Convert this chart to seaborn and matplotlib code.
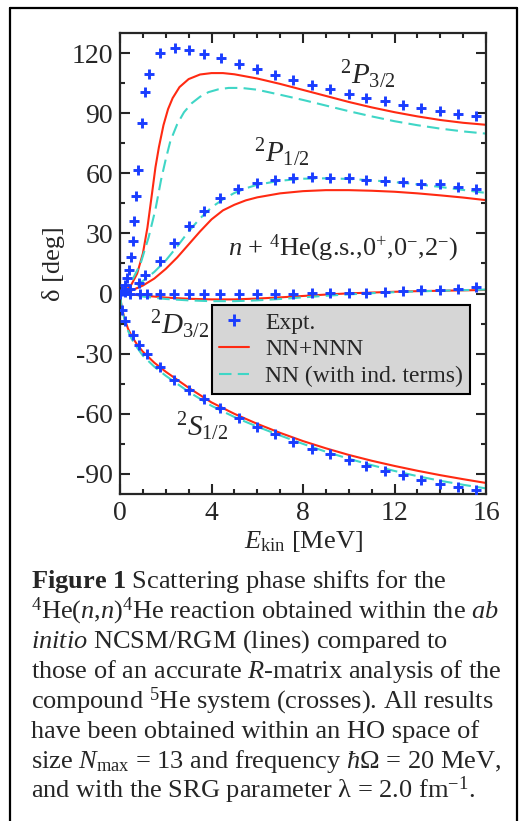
import numpy as np
import pandas as pd
import matplotlib
matplotlib.use("Agg")
import matplotlib.pyplot as plt
from matplotlib.lines import Line2D
import seaborn as sns

# ---------------- data: n + 4He phase shifts (deg) vs E_kin (MeV) ----------------
# R-matrix analysis (crosses)
e_p32_expt = [0.1, 0.2, 0.3, 0.38, 0.48, 0.55, 0.62, 0.72, 0.78, 0.94, 1.1, 1.28, 1.77, 2.39,
              3.03, 3.68, 4.4, 5.19, 5.97, 6.78, 7.57, 8.38, 9.17, 9.99, 10.77, 11.57, 12.37,
              13.17, 13.97, 14.77, 15.58]
d_p32_expt = [1.5, 4.5, 8, 12, 18, 26, 36, 48.6, 61.6, 85, 100.5, 109.7, 120, 122.4,
              121.5, 119.7, 117.3, 114.7, 111.9, 109, 106.7, 104, 102, 99.7, 97.7, 96, 94,
              92.8, 90.9, 89.8, 88.4]

e_p12_expt = [0.2, 0.45, 0.83, 1.1, 1.76, 2.38, 3.02, 3.67, 4.39, 5.17, 5.97, 6.78, 7.57,
              8.38, 9.17, 9.99, 10.77, 11.57, 12.37, 13.17, 13.97, 14.77, 15.58]
d_p12_expt = [0.7, 2.5, 5.5, 9.2, 16.3, 25, 33.7, 41.3, 47.6, 52.4, 55.2, 56.8, 57.8,
              58.2, 57.8, 57.5, 56.8, 56.2, 55.5, 54.9, 54.5, 53.2, 52.4]

e_d32_expt = [0.0, 0.45, 0.87, 1.16, 1.76, 2.38, 3.02, 3.67, 4.39, 5.19, 5.97, 6.78, 7.57,
              8.38, 9.17, 9.99, 10.77, 11.57, 12.37, 13.17, 13.97, 14.77, 15.58]
d_d32_expt = [0.0, 0.0, 0.0, 0.0, 0.0, 0.0, 0.0, 0.0, 0.0, 0.0, 0.0, 0.0, 0.0,
              0.1, 0.2, 0.3, 0.5, 0.8, 1.1, 1.6, 2.0, 2.5, 3.3]

e_s12_expt = [0.09, 0.23, 0.56, 0.84, 1.17, 1.76, 2.38, 3.02, 3.68, 4.36, 5.19, 5.97, 6.78,
              7.57, 8.38, 9.17, 9.99, 10.77, 11.57, 12.37, 13.17, 13.97, 14.77, 15.58]
d_s12_expt = [-8.3, -13.7, -20.6, -25.5, -30.3, -36.6, -42.9, -47.9, -52.6, -56.9, -62, -66.5,
              -70.2, -74, -77.3, -80.1, -83.1, -86, -88.5, -90.6, -92.8, -94.8, -96.5, -98.1]

# NCSM/RGM calculations
e_p32_calc = [0, 0.25, 0.5, 0.75, 1.0, 1.2, 1.4, 1.55, 1.7, 1.9, 2.1, 2.3, 2.6, 3.0, 3.5, 4.0,
              4.5, 5.0, 6.0, 7.0, 8.0, 9.0, 10.0, 11.0, 12.0, 13.0, 14.0, 15.0, 16.0]
d_p32_nnn = [0, 1.5, 4.5, 10, 20, 33, 50, 63, 73, 84, 92, 97.5, 103, 107, 109.3, 110,
             110, 109.4, 107.3, 104.6, 101.6, 98.6, 95.6, 92.9, 90.5, 88.4, 86.6, 85.2, 84.2]
e_p32_nn = [0, 0.5, 0.9, 1.25, 1.55, 1.8, 2.0, 2.2, 2.5, 2.8, 3.14, 3.5, 3.87, 4.3, 4.75,
            5.3, 6.0, 7.0, 8.0, 9.0, 10.0, 11.0, 12.0, 13.0, 14.0, 15.0, 16.0]
d_p32_nn = [0, 6, 15, 28, 42, 57, 67, 76, 84.5, 90.5, 95, 98.2, 100.5, 101.9, 102.6,
            102.6, 101.7, 99.2, 96.6, 93.8, 91.0, 88.4, 86.0, 84.0, 82.3, 80.9, 79.8]

e_p12_calc = [0, 0.5, 1.0, 1.5, 2.0, 2.5, 3.0, 3.5, 4.0, 4.5, 5.0, 5.5, 6.0, 7.0, 8.0, 9.0,
              10.0, 11.0, 12.0, 13.0, 14.0, 15.0, 16.0]
d_p12_nnn = [0, 1.5, 4, 7.5, 12.3, 18, 24.5, 31, 37, 41.5, 44.3, 46.5, 48, 50, 51.1, 51.6,
             51.6, 51.3, 50.8, 50.0, 49.0, 47.9, 46.6]
d_p12_nn = [0, 2.5, 6.3, 10.8, 16.5, 23.5, 31, 37.5, 43, 47, 50.2, 52.5, 54.3, 56.3, 57.3,
            57.5, 57.2, 56.5, 55.6, 54.5, 53.2, 51.7, 50.2]

e_d32_calc = [0, 0.5, 1, 2, 3, 4, 5, 6, 7, 8, 9, 10, 11, 12, 13, 14, 15, 16]
d_d32_nnn = [0, -0.5, -1.0, -2.0, -2.6, -2.9, -2.9, -2.5, -1.9, -1.2, -0.5, 0.1, 0.5, 0.9,
             1.2, 1.4, 1.6, 1.8]
d_d32_nn = [0, -0.8, -1.5, -2.7, -3.4, -3.8, -3.8, -3.4, -2.7, -1.9, -1.1, -0.4, 0.2, 0.7,
            1.1, 1.4, 1.7, 2.0]

e_s12_calc = [0, 0.05, 0.1, 0.2, 0.35, 0.5, 0.75, 1.0, 1.5, 2.0, 2.5, 3.0, 4.0, 5.0, 6.0,
              7.0, 8.0, 9.0, 10.0, 11.0, 12.0, 13.0, 14.0, 15.0, 16.0]
d_s12_nnn = [0, -5, -8, -12.5, -17.5, -21, -25.5, -29, -34.5, -39, -43, -47, -54.3, -60,
             -65, -69.5, -73.6, -77.2, -80.5, -83.4, -86, -88.4, -90.6, -92.6, -94.5]
d_s12_nn = [0, -5, -8.5, -13, -18.5, -22.5, -27, -31, -36.5, -41, -45, -49, -56, -61.6,
            -66.4, -70.8, -75, -78.9, -82.4, -85.6, -88.5, -91.1, -93.4, -95.4, -97.2]

x_ticks = [0, 4, 8, 12, 16]
y_ticks = [-90, -60, -30, 0, 30, 60, 90, 120]

# ---------------- style ----------------
sns.set_style("ticks")
plt.rcParams["font.family"] = ["Liberation Serif", "DejaVu Serif"]
plt.rcParams["mathtext.fontset"] = "custom"
plt.rcParams["mathtext.rm"] = "Liberation Serif"
plt.rcParams["mathtext.it"] = "Liberation Serif:italic"
plt.rcParams["mathtext.bf"] = "Liberation Serif:bold"
plt.rcParams["axes.unicode_minus"] = False

RED = "#ff2a12"
CYAN = "#3fd6c6"
BLUE = "#1a3dff"
LW = 1.5
DASH = (0, (6, 3))

W, H = 524, 821
fig = plt.figure(figsize=(W / 100, H / 100), dpi=100)
ax = fig.add_axes([120 / W, 1 - 494 / H, 366 / W, 461 / H])


def line(xs, ys, color, ls):
    df = pd.DataFrame({"E": xs, "d": ys})
    sns.lineplot(data=df, x="E", y="d", ax=ax, color=color, lw=LW, linestyle=ls,
                 estimator=None, sort=False, legend=False)


def crosses(xs, ys):
    df = pd.DataFrame({"E": xs, "d": ys})
    sns.scatterplot(data=df, x="E", y="d", ax=ax, marker="+", s=60, color=BLUE,
                    linewidth=2.1, legend=False, zorder=3)


for xs, ys in [(e_p32_calc, d_p32_nnn), (e_p12_calc, d_p12_nnn),
               (e_d32_calc, d_d32_nnn), (e_s12_calc, d_s12_nnn)]:
    line(xs, ys, RED, "-")
for xs, ys in [(e_p32_nn, d_p32_nn), (e_p12_calc, d_p12_nn),
               (e_d32_calc, d_d32_nn), (e_s12_calc, d_s12_nn)]:
    line(xs, ys, CYAN, DASH)
for xs, ys in [(e_p32_expt, d_p32_expt), (e_p12_expt, d_p12_expt),
               (e_d32_expt, d_d32_expt), (e_s12_expt, d_s12_expt)]:
    crosses(xs, ys)

ax.set_xlim(0, 16)
ax.set_ylim(-100, 130)
ax.set_xticks(x_ticks)
ax.set_yticks(y_ticks)
ax.set_xticks(np.arange(0, 17, 1), minor=True)
ax.set_yticks(np.arange(-90, 130, 15), minor=True)
ax.tick_params(which="both", direction="in", top=True, right=True, width=1.5,
               labelsize=20, pad=5)
ax.tick_params(which="major", length=7)
ax.tick_params(which="minor", length=3.6)
for sp in ax.spines.values():
    sp.set_linewidth(1.6)

ax.set_xlabel(r"$E_{\rm kin}$ [MeV]", fontsize=19, labelpad=2)
ax.set_ylabel("δ [deg]", fontsize=19, labelpad=5)

# partial-wave labels
ax.text(9.6, 104.5, r"$^{2}P_{3/2}$", fontsize=21)
ax.text(5.85, 65.5, r"$^{2}P_{1/2}$", fontsize=21)
ax.text(9.75, 22.5, r"$n$ + $^{4}$He(g.s.,0$^{+}$,0$^{-}$,2$^{-}$)", fontsize=19,
        ha="center", va="center")
ax.text(1.3, -20, r"$^{2}D_{3/2}$", fontsize=21)
ax.text(2.45, -71, r"$^{2}S_{1/2}$", fontsize=21)

handles = [Line2D([], [], ls="none", marker="+", color=BLUE, ms=8, mew=2.1),
           Line2D([], [], color=RED, lw=LW),
           Line2D([], [], color=CYAN, lw=LW, ls=DASH)]
leg = ax.legend(handles, ["Expt.", "NN+NNN", "NN (with ind. terms)"],
                loc="upper left", bbox_to_anchor=(92 / 366, (494 - 305) / 461),
                fontsize=17, frameon=True, fancybox=False, framealpha=1,
                facecolor="#d6d6d6", edgecolor="black", handlelength=1.25,
                handletextpad=0.7, borderpad=0.3, labelspacing=0.22, borderaxespad=0)
leg.get_frame().set_linewidth(1.5)

# outer frame
fr = dict(color="black", lw=1.6, transform=fig.transFigure, clip_on=False)
fig.add_artist(Line2D([10 / W, 10 / W], [0, 1 - 8 / H], **fr))
fig.add_artist(Line2D([10 / W, 517 / W], [1 - 8 / H, 1 - 8 / H], **fr))
fig.add_artist(Line2D([517 / W, 517 / W], [0, 1 - 8 / H], **fr))

# caption
cap = [
    r"$\mathbf{Figure\ 1}$ Scattering phase shifts for the",
    r"$^{4}$He($n$,$n$)$^{4}$He reaction obtained within the $ab$",
    r"$initio$ NCSM/RGM (lines) compared to",
    r"those of an accurate $R$-matrix analysis of the",
    r"compound $^{5}$He system (crosses). All results",
    r"have been obtained within an HO space of",
    r"size $N_{\rm max}$ = 13 and frequency $ħ$Ω = 20 MeV,",
    r"and with the SRG parameter λ = 2.0 fm$^{-1}$.",
]
for i, s in enumerate(cap):
    fig.text(31 / W, 1 - (588 + 30 * i) / H, s, fontsize=19, ha="left", va="baseline")

fig.savefig("out.png", dpi=100)
